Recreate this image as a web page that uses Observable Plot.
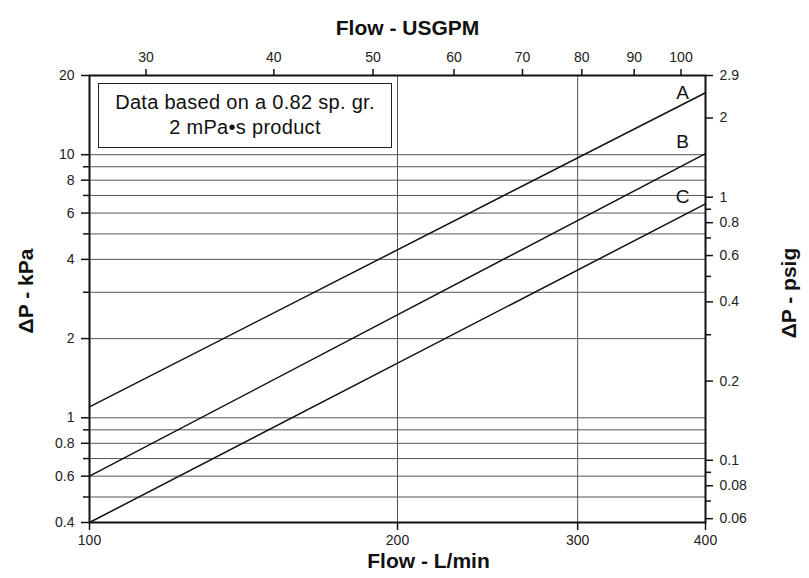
<!DOCTYPE html>
<html>
<head>
<meta charset="utf-8">
<script src="https://cdn.jsdelivr.net/npm/d3@7"></script>
<script src="https://cdn.jsdelivr.net/npm/@observablehq/plot@0.6"></script>
<style>
  html, body { margin: 0; padding: 0; background: #fff; }
  #wrap { position: relative; width: 809px; height: 578px; font-family: "Liberation Sans", Arial, sans-serif; }
  #note { position: absolute; left: 98px; top: 83px; width: 294px; height: 65px; border: 1.5px solid #222;
          font-size: 20px; line-height: 25px; text-align: center; color: #111; box-sizing: border-box; padding-top: 6px; letter-spacing: 0.3px; }
</style>
</head>
<body>
<div id="wrap"></div>
<script>
// ---- data ----
const flowLmin = [100, 400];            // x extent (L/min)
const curveA = [1.1, 17.2];             // kPa at 100 and 400 L/min
const curveB = [0.6, 10.1];
const curveC = [0.4, 6.5];
const curveNames = ["A", "B", "C"];
const labelFlow = [380, 380, 380];      // label positions (L/min)
const labelKpa = [17.2, 11.2, 6.9];

const xTicks = [100, 200, 300, 400];
const xGrid = [200, 300];
const gpmTicks = [30, 40, 50, 60, 70, 80, 90, 100];
const kpaMajor = [0.4, 0.6, 0.8, 1, 2, 4, 6, 8, 10, 20];
const kpaMinor = [0.5, 0.7, 0.9, 3, 5, 7, 9];
const kpaGrid = [0.5, 0.6, 0.7, 0.8, 0.9, 1, 2, 3, 4, 5, 6, 7, 8, 9, 10];
const psigMajor = [0.06, 0.08, 0.1, 0.2, 0.4, 0.6, 0.8, 1, 2, 2.9];
const psigMinor = [0.07, 0.09, 0.3, 0.5, 0.7, 0.9];

const GAL = 3.785411784;   // L per US gal
const PSI = 6.894757;      // kPa per psi

const lines = [];
[curveA, curveB, curveC].forEach((c, i) => {
  flowLmin.forEach((f, j) => lines.push({series: curveNames[i], flow: f, kpa: c[j]}));
});
const labels = curveNames.map((n, i) => ({name: n, flow: labelFlow[i], kpa: labelKpa[i]}));
const psigKpa = p => (p === 2.9 ? 20 : p * PSI);

const font = "Liberation Sans, Arial, sans-serif";
const ax = {label: null, stroke: "#111", strokeWidth: 1.5, tickFormat: () => ""};

const chart = Plot.plot({
  width: 809,
  height: 578,
  marginLeft: 89,
  marginRight: 104,
  marginTop: 75,
  marginBottom: 56,
  style: {fontFamily: font, fontSize: "14px", color: "#222", background: "white"},
  x: {type: "log", domain: [100, 400]},
  y: {type: "log", domain: [0.4, 20]},
  marks: [
    Plot.ruleY(kpaGrid, {stroke: "#555", strokeWidth: 1}),
    Plot.ruleX(xGrid, {stroke: "#555", strokeWidth: 1}),
    Plot.line(lines, {x: "flow", y: "kpa", z: "series", stroke: "#111", strokeWidth: 1.5}),
    Plot.text(labels, {x: "flow", y: "kpa", text: "name", fontSize: 19, fill: "#111"}),
    Plot.frame({stroke: "#111", strokeWidth: 2}),
    // tick marks
    Plot.axisX({...ax, anchor: "bottom", ticks: xTicks, tickSize: 8}),
    Plot.axisX({...ax, anchor: "top", ticks: gpmTicks.map(g => g * GAL), tickSize: 7}),
    Plot.axisY({...ax, anchor: "left", ticks: kpaMajor, tickSize: 8}),
    Plot.axisY({...ax, anchor: "left", ticks: kpaMinor, tickSize: 6}),
    Plot.axisY({...ax, anchor: "right", ticks: psigMajor.map(psigKpa), tickSize: 7}),
    Plot.axisY({...ax, anchor: "right", ticks: psigMinor.map(p => p * PSI), tickSize: 5}),
    // tick labels
    Plot.text(xTicks, {x: d => d, text: d => String(d), frameAnchor: "bottom", dy: 22, fill: "#222", fontSize: 14}),
    Plot.text(gpmTicks, {x: d => d * GAL, text: d => String(d), frameAnchor: "top", dy: -23, fill: "#222", fontSize: 14}),
    Plot.text(kpaMajor, {y: d => d, text: d => String(d), frameAnchor: "left", textAnchor: "end", dx: -15, fill: "#222", fontSize: 14}),
    Plot.text(psigMajor, {y: psigKpa, text: d => String(d), frameAnchor: "right", textAnchor: "start", dx: 14, fill: "#222", fontSize: 14}),
    // axis titles
    Plot.text(["Flow - USGPM"], {frameAnchor: "top", dx: 10, dy: -55, fontSize: 21, fontWeight: "bold", fill: "#111"}),
    Plot.text(["Flow - L/min"], {frameAnchor: "bottom", dx: 31, dy: 45, fontSize: 21, fontWeight: "bold", fill: "#111"}),
    Plot.text(["ΔP - kPa"], {frameAnchor: "left", textAnchor: "middle", dx: -63, dy: -8, rotate: -90, fontSize: 21, fontWeight: "bold", fill: "#111"}),
    Plot.text(["ΔP - psig"], {frameAnchor: "right", textAnchor: "middle", dx: 84, dy: -6, rotate: -90, fontSize: 21, fontWeight: "bold", fill: "#111"})
  ]
});

const wrap = document.getElementById("wrap");
wrap.appendChild(chart);
const note = document.createElement("div");
note.id = "note";
note.innerHTML = "Data based on a 0.82 sp. gr.<br>2 mPa•s product";
wrap.appendChild(note);
</script>
</body>
</html>
